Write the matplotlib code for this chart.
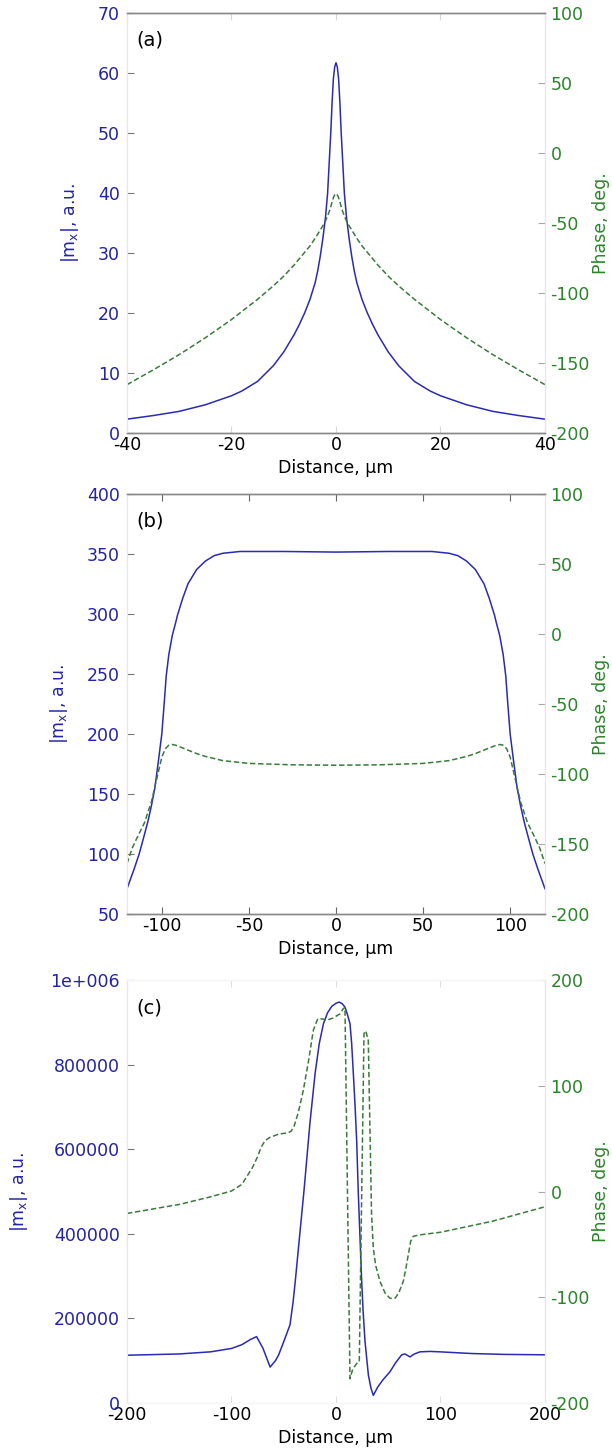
import matplotlib
matplotlib.use("Agg")
import matplotlib.pyplot as plt
from matplotlib.ticker import FuncFormatter

plt.rcParams['font.family'] = 'DejaVu Sans'
plt.rcParams['font.size'] = 12.5
plt.rcParams['axes.unicode_minus'] = False

BLUE = '#2323a8'
GREEN = '#2a852a'
LINE_BLUE = '#2a2ab4'
LINE_GREEN = '#3a7a3a'

# (a) narrow peak
a_x = [-40, -35, -30, -25, -20, -18, -15, -12, -10, -8, -7, -6, -5, -4, -3.5, -3, -2.5, -2, -1.6,
       -1.3, -1, -0.75, -0.5, -0.25, 0, 0.25, 0.5, 0.75, 1, 1.3, 1.6, 2, 2.5, 3, 3.5, 4, 5, 6, 7,
       8, 10, 12, 15, 18, 20, 25, 30, 35, 40]
a_mag = [2.3, 2.9, 3.6, 4.7, 6.2, 7.0, 8.6, 11.2, 13.5, 16.4, 18.1, 20, 22.2, 25, 27, 29.5, 32.5,
         36, 40, 45, 50, 55, 59, 61, 61.7, 61, 59, 55, 50, 45, 40, 36, 32.5, 29.5, 27, 25, 22.2,
         20, 18.1, 16.4, 13.5, 11.2, 8.6, 7.0, 6.2, 4.7, 3.6, 2.9, 2.3]
a_px = [-40, -35, -30, -25, -20, -15, -12, -10, -8, -6, -5, -4, -3, -2.5, -2, -1.6, -1.3, -1,
        -0.75, -0.5, -0.25, 0, 0.25, 0.5, 0.75, 1, 1.3, 1.6, 2, 2.5, 3, 4, 5, 6, 8, 10, 12, 15,
        20, 25, 30, 35, 40]
a_phase = [-165.5, -155, -144, -132, -119, -104.5, -95, -88, -80, -71, -66.5, -61, -55, -52, -48.5,
           -45, -42, -38.5, -35, -32, -30, -29, -30, -32, -35, -38.5, -42, -45, -48.5, -52, -55,
           -61, -66.5, -71, -80, -88, -95, -104.5, -119, -132, -144, -155, -165.5]

# (b) flat top
b_x = [-120, -116, -113, -110, -108, -106, -104, -102, -100, -98.5, -97.5, -96, -94, -92, -91, -88,
       -85, -80, -75, -70, -65, -55, -30, 0, 30, 55, 65, 70, 75, 80, 85, 88, 91, 92, 94, 96, 97.5,
       98.5, 100, 102, 104, 106, 108, 110, 113, 116, 120]
b_mag = [71, 87, 100, 116, 127, 140, 155, 177, 200, 228, 248, 266, 282, 293, 299, 313, 325, 337,
         344, 348.5, 350.5, 352, 352, 351.5, 352, 352, 350.5, 348.5, 344, 337, 325, 313, 299, 293,
         282, 266, 248, 228, 200, 177, 155, 140, 127, 116, 100, 87, 71]
b_px = [-120, -117, -114, -110, -106, -103, -100, -98, -96, -94, -92, -90, -85, -80, -75, -65, -50,
        -25, 0, 25, 50, 65, 75, 80, 85, 90, 92, 94, 96, 98, 100, 103, 106, 110, 114, 117, 120]
b_phase = [-164, -153, -145, -135, -120, -104, -88, -82, -79.5, -79, -79.5, -80.5, -83, -85.5,
           -87.5, -90.5, -92.5, -93.5, -93.8, -93.5, -92.5, -90.5, -87.5, -85.5, -83, -80.5, -79.5,
           -79, -79.5, -82, -88, -104, -120, -135, -145, -153, -164]

# (c) asymmetric profile
c_x = [-200, -150, -120, -100, -90, -82, -76, -70, -63, -58, -55, -50, -44, -41, -39, -35, -30.5,
       -25, -20, -16, -12, -8, -4, 0, 3, 6, 8.6, 11, 13.4, 15, 16.6, 18.3, 19.8, 21.3, 23, 24.6,
       26, 27.8, 31, 33.5, 35.7, 40, 45, 51.7, 57, 62.9, 66, 70.8, 75, 80.4, 90, 99.5, 130, 160,
       200]
c_mag = [113000, 116000, 121000, 129000, 138000, 150000, 157000, 130000, 85000, 100000, 113000,
         145000, 185000, 240000, 287000, 390000, 505000, 660000, 779000, 850000, 897000, 923000,
         938000, 945000, 948000, 944000, 936000, 918000, 897000, 850000, 779000, 700000, 620000,
         500000, 390000, 287000, 215000, 145000, 66000, 35000, 18000, 38000, 55000, 74000, 95000,
         114000, 116000, 109000, 116000, 121000, 122000, 121000, 117000, 115000, 114000]
c_px = [-200, -150, -120, -100, -90, -80, -75, -71.8, -68, -63.6, -55, -46, -43, -40, -36, -31.3,
        -26, -21.7, -18, -16.9, -12, -8.9, -3, 3.8, 7, 8.6, 13.4, 16, 19.8, 22.3, 26.8, 28.5, 30.9,
        34, 35.7, 38, 42.1, 47, 51.7, 56.5, 60, 64.4, 67, 69.2, 71.5, 74, 80, 100, 150, 200]
c_phase = [-20.7, -12.2, -5, 0.5, 6.8, 22.6, 33, 41.6, 48, 51, 54.3, 55.5, 57, 62, 75, 95.5, 125,
           152.5, 162, 163.6, 163, 162, 164, 168, 173, 174, -177, -168, -162.6, -161, 149.4, 152,
           143, -20, -53.4, -70, -85, -96, -101, -101, -96, -85, -72, -59.7, -47, -42.3, -41,
           -38.5, -28, -14.4]

panels = [
    dict(tag='(a)', x=a_x, mag=a_mag, px=a_px, phase=a_phase, xlim=(-40, 40),
         xticks=[-40, -20, 0, 20, 40], ylim=(0, 70), yticks=list(range(0, 71, 10)),
         plim=(-200, 100), pticks=list(range(-200, 101, 50)), frame='#888888',
         xtick_color='#d8d8d8', ylab_x=-0.11),
    dict(tag='(b)', x=b_x, mag=b_mag, px=b_px, phase=b_phase, xlim=(-120, 120),
         xticks=[-100, -50, 0, 50, 100], ylim=(50, 400), yticks=list(range(50, 401, 50)),
         plim=(-200, 100), pticks=list(range(-200, 101, 50)), frame='#888888',
         xtick_color='#666666', ylab_x=-0.1375),
    dict(tag='(c)', x=c_x, mag=c_mag, px=c_px, phase=c_phase, xlim=(-200, 200),
         xticks=[-200, -100, 0, 100, 200], ylim=(0, 1e6), yticks=list(range(0, 1000001, 200000)),
         plim=(-200, 200), pticks=list(range(-200, 201, 100)), frame='#f6f6f6',
         xtick_color='#dddddd', ylab_x=-0.231),
]

bottoms = [0.7014, 0.3697, 0.0324]
heights = [0.2897, 0.2897, 0.2917]


def big_fmt(v, pos):
    if v >= 1e6:
        return '1e+006'
    return '%d' % v


fig = plt.figure(figsize=(6.12, 14.5), dpi=100)

for p, b, h in zip(panels, bottoms, heights):
    ax = fig.add_axes([0.2075, b, 0.683, h])
    ax2 = ax.twinx()

    ax.plot(p['x'], p['mag'], color=LINE_BLUE, lw=1.1)
    ax2.plot(p['px'], p['phase'], color=LINE_GREEN, lw=1.1, dashes=(3.5, 1.8))

    ax.set_xlim(*p['xlim'])
    ax.set_ylim(*p['ylim'])
    ax2.set_ylim(*p['plim'])
    ax.set_xticks(p['xticks'])
    ax.set_yticks(p['yticks'])
    ax2.set_yticks(p['pticks'])
    if p['tag'] == '(c)':
        ax.yaxis.set_major_formatter(FuncFormatter(big_fmt))

    for a in (ax, ax2):
        a.spines['top'].set_color(p['frame'])
        a.spines['bottom'].set_color(p['frame'])
        a.spines['left'].set_color('#e6e6ee')
        a.spines['right'].set_color('#e6e6ee')
        a.spines['top'].set_linewidth(1.0)
        a.spines['bottom'].set_linewidth(1.0)

    ax.tick_params(axis='x', direction='in', length=5, top=True, color=p['xtick_color'],
                   labelcolor='black', pad=2)
    ax.tick_params(axis='y', direction='in', length=5, color='#777777', labelcolor=BLUE, pad=5)
    ax2.tick_params(axis='y', direction='in', length=5, color='#aaaaaa', labelcolor=GREEN, pad=4)

    ax.set_xlabel('Distance, µm', labelpad=4)
    ax.set_ylabel(r'|m$_\mathregular{x}$|, a.u.', color=BLUE)
    ax.yaxis.set_label_coords(p['ylab_x'], 0.5)
    ax2.set_ylabel('Phase, deg.', color=GREEN, rotation=90)
    ax2.yaxis.set_label_coords(1.112, 0.5)

    ax.text(0.022, 0.935, p['tag'], transform=ax.transAxes, fontsize=14, va='center', ha='left')

fig.savefig('out.png', dpi=100)
